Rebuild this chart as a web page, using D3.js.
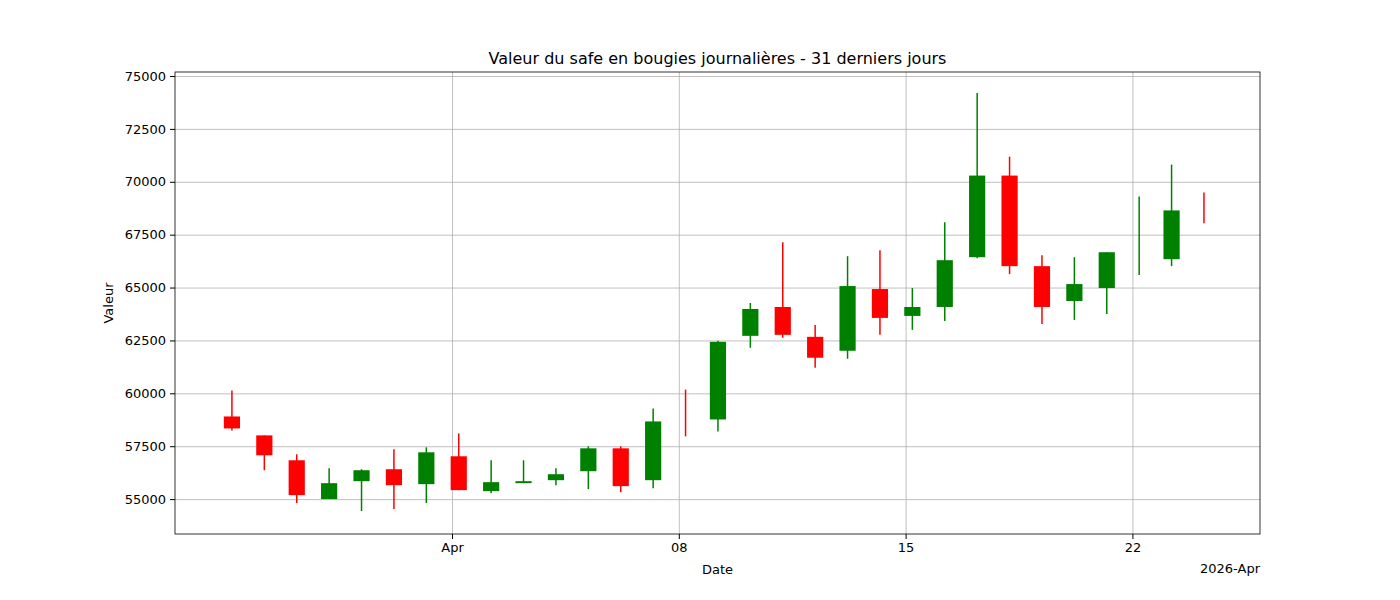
<!DOCTYPE html>
<html>
<head>
<meta charset="utf-8">
<title>Valeur du safe</title>
<script src="https://cdn.jsdelivr.net/npm/d3@7"></script>
<style>
body { margin: 0; background: #fff; }
text { font-family: "DejaVu Sans", sans-serif; }
</style>
</head>
<body>
<svg id="chart" width="1400" height="600"></svg>
<script>
// one candle per day, 25 Mar -> 24 Apr 2026
var days = d3.timeDay.range(new Date(2026, 2, 25), new Date(2026, 3, 25));
var opens  = [58906, 58012, 56835, 55000, 55847, 56412, 55706, 57024, 55377, 55753, 55894, 56318, 57400, 55894, 59000, 58765, 62718, 64082, 62671, 62012, 64929, 63659, 64082, 66435, 70294, 66012, 64365, 64976, 67400, 66341, 68700];
var highs  = [60129, 58012, 57118, 56459, 56412, 57353, 57447, 58106, 56835, 56835, 56459, 57494, 57494, 59282, 60175, 62482, 64270, 67141, 63235, 66482, 66765, 64976, 68082, 74200, 71188, 66529, 66435, 66670, 69306, 70812, 69494];
var lows   = [58247, 56365, 54812, 55000, 54435, 54529, 54812, 55424, 55282, 55753, 55659, 55471, 55329, 55518, 57965, 58200, 62153, 62624, 61212, 61635, 62765, 63000, 63424, 66388, 65635, 63282, 63471, 63753, 65588, 66012, 68035];
var closes = [58341, 57071, 55188, 55753, 56365, 55659, 57212, 55424, 55800, 55847, 56176, 57400, 55612, 58671, 58990, 62435, 63988, 62765, 61682, 65071, 63565, 64082, 66294, 70294, 66012, 64082, 65165, 66670, 67410, 68647, 68690];
var yTicks = [55000, 57500, 60000, 62500, 65000, 67500, 70000, 72500, 75000];
var xTicks = [new Date(2026, 3, 1), new Date(2026, 3, 8), new Date(2026, 3, 15), new Date(2026, 3, 22)];

var svg = d3.select("#chart");
var pLeft = 175, pRight = 1260, pTop = 72, pBottom = 534;

var x = d3.scaleTime()
  .domain([new Date(2026, 2, 23, 10, 50), new Date(2026, 3, 25, 22, 30)])
  .range([pLeft, pRight]);
var y = d3.scaleLinear().domain([53350, 75190]).range([pBottom, pTop]);

var gx = svg.append("g").attr("transform", "translate(0," + pBottom + ")")
  .call(d3.axisBottom(x).tickValues(xTicks).tickSize(-(pBottom - pTop)).tickPadding(9)
    .tickFormat(function (d) { return d.getDate() == 1 ? "Apr" : d3.timeFormat("%d")(d); }));
var gy = svg.append("g").attr("transform", "translate(" + pLeft + ",0)")
  .call(d3.axisLeft(y).tickValues(yTicks).tickSize(-(pRight - pLeft)).tickPadding(9).tickFormat(d3.format("d")));
[gx, gy].forEach(function (g) {
  g.select(".domain").remove();
  g.selectAll("line").attr("stroke", "#b0b0b0").attr("stroke-width", 0.8);
  g.selectAll("text").attr("font-size", 13).attr("fill", "#000");
});
// outer tick marks
gx.selectAll(".tick").append("line").attr("y2", 5).attr("stroke", "#000");
gy.selectAll(".tick").append("line").attr("x2", -5).attr("stroke", "#000");

var half = (x(new Date(2026, 3, 2)) - x(new Date(2026, 3, 1))) * 0.25;
var cx = function (i) { return x(d3.timeHour.offset(days[i], 5)); };
var colour = function (i) { return closes[i] >= opens[i] ? "green" : "red"; };
var idx = d3.range(days.length);

svg.append("g").selectAll("line").data(idx).enter().append("line")
  .attr("x1", cx).attr("x2", cx)
  .attr("y1", function (i) { return y(highs[i]); })
  .attr("y2", function (i) { return y(lows[i]); })
  .attr("stroke", colour).attr("stroke-width", 1.5);

svg.append("g").selectAll("rect").data(idx.filter(function (i) { return Math.abs(closes[i] - opens[i]) > 15; }))
  .enter().append("rect")
  .attr("x", function (i) { return cx(i) - half; })
  .attr("width", half * 2)
  .attr("y", function (i) { return y(Math.max(opens[i], closes[i])); })
  .attr("height", function (i) { return Math.abs(y(opens[i]) - y(closes[i])); })
  .attr("fill", colour);

svg.append("rect").attr("x", pLeft).attr("y", pTop).attr("width", pRight - pLeft).attr("height", pBottom - pTop)
  .attr("fill", "none").attr("stroke", "#000").attr("stroke-width", 0.8);

svg.append("text").attr("x", (pLeft + pRight) / 2).attr("y", 64).attr("text-anchor", "middle")
  .attr("font-size", 16).text("Valeur du safe en bougies journalières - 31 derniers jours");
svg.append("text").attr("x", (pLeft + pRight) / 2).attr("y", 574).attr("text-anchor", "middle")
  .attr("font-size", 13).text("Date");
svg.append("text").attr("transform", "translate(113," + (pTop + pBottom) / 2 + ") rotate(-90)")
  .attr("text-anchor", "middle").attr("font-size", 13).text("Valeur");
svg.append("text").attr("x", pRight).attr("y", 573).attr("text-anchor", "end")
  .attr("font-size", 13).text("2026-Apr");
</script>
</body>
</html>
